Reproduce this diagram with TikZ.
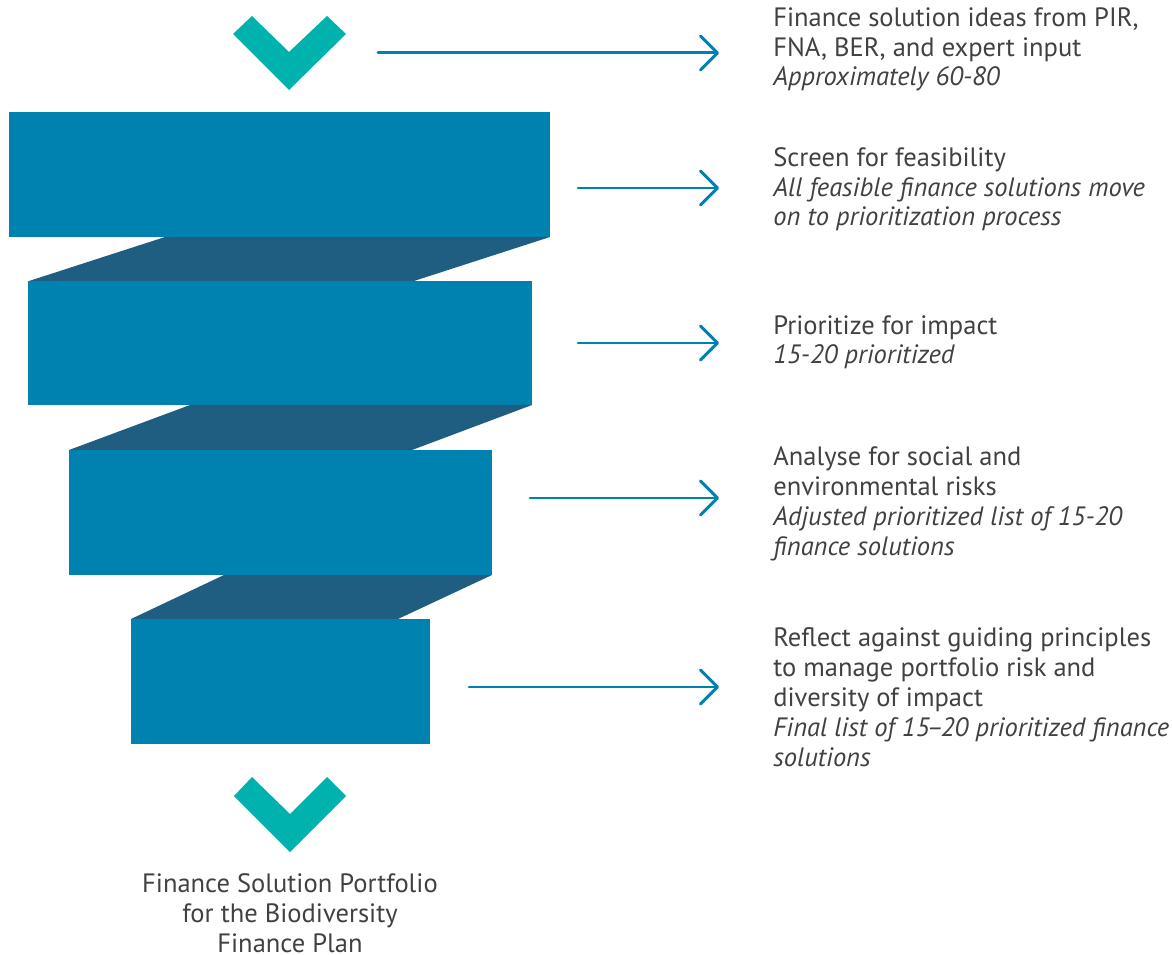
\documentclass[tikz,border=0pt]{standalone}
\usepackage{fontspec}
\setmainfont{PT Sans}
\usetikzlibrary{arrows.meta}
\definecolor{funnelblue}{HTML}{0082B0}
\definecolor{funneldark}{HTML}{1F5E80}
\definecolor{chevroncol}{HTML}{00B2AE}
\definecolor{textgray}{HTML}{414042}

\begin{document}
\begin{tikzpicture}[x=0.02cm, y=-0.02cm,
    flow/.style={draw=funnelblue, line width=1.7pt, line cap=round,
        -{Straight Barb[length=0.34cm, width=0.68cm, line cap=round, line join=round]}},
    stagetext/.style={anchor=base west, align=left, inner sep=0pt, text=textgray,
        font=\fontsize{15.1}{17}\selectfont}]
    \useasboundingbox (0,0) rectangle (1172,955);

    % Trichter: Bänder
    \fill[funnelblue] (9,112) rectangle (550,237);     % Band 1
    \fill[funneldark] (165,237) -- (550,237) -- (414,281) -- (29,281) -- cycle;
    \fill[funnelblue] (28,281) rectangle (532,405);    % Band 2
    \fill[funneldark] (190,405) -- (532,405) -- (412,450) -- (69,450) -- cycle;
    \fill[funnelblue] (69,450) rectangle (492,575);    % Band 3
    \fill[funneldark] (224,575) -- (492,575) -- (398,619) -- (131,619) -- cycle;
    \fill[funnelblue] (131,619) rectangle (430,744);   % Band 4

    % Winkel oben und unten
    \fill[chevroncol] (233,34) -- (252,16) -- (289,52) -- (327,16) -- (346,34) -- (289,90) -- cycle;
    \fill[chevroncol] (234,796) -- (252,777) -- (290,814) -- (327,777) -- (346,796) -- (290,852) -- cycle;

    % Texte rechts (Anker: Grundlinie der letzten Zeile)
    \node[stagetext] (ideas) at (773,86) {Finance solution ideas from PIR,\\FNA, BER, and expert input\\\textit{Approximately 60-80}};
    \node[stagetext] (screen) at (773,226) {Screen for feasibility\\\textit{All feasible finance solutions move}\\\textit{on to prioritization process}};
    \node[stagetext] (prio) at (773,364) {Prioritize for impact\\\textit{15-20 prioritized}};
    \node[stagetext] (risk) at (773,555) {Analyse for social and\\environmental risks\\\textit{Adjusted prioritized list of 15-20}\\\textit{finance solutions}};
    \node[stagetext] (reflect) at (773,766) {Reflect against guiding principles\\to manage portfolio risk and\\diversity of impact\\\textit{Final list of 15\kern-1.5pt--\kern-1.5pt20 prioritized finance}\\\textit{solutions}};

    % Ergebnis unten
    \node[stagetext, anchor=base, align=center] (portfolio) at (290,952) {Finance Solution Portfolio\\for the Biodiversity\\Finance Plan};

    % Pfeile
    \coordinate (s1) at (378,53);  \coordinate (e1) at (719,53);
    \coordinate (s2) at (578,188); \coordinate (e2) at (719,188);
    \coordinate (s3) at (578,343); \coordinate (e3) at (719,343);
    \coordinate (s4) at (530,498); \coordinate (e4) at (719,498);
    \coordinate (s5) at (469,687); \coordinate (e5) at (719,687);
    \foreach \i in {1,...,5}
        \draw[flow] (s\i) -- (e\i);
\end{tikzpicture}
\end{document}
